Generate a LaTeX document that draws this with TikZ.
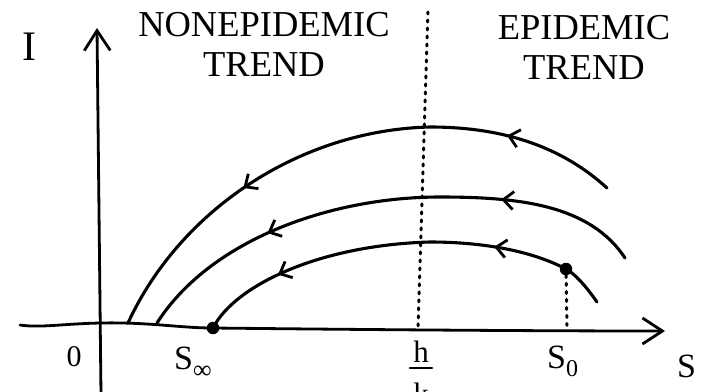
\documentclass[tikz,border=0pt]{standalone}
\usepackage{fontspec}
\setmainfont{Liberation Serif}
\usetikzlibrary{arrows.meta,decorations.markings}
\tikzset{
  head/.tip={Straight Barb[length=10pt,width=18pt,line width=2.8pt]},
  ahead/.tip={Straight Barb[length=20pt,width=26pt,line width=2.8pt]}
}
\begin{document}
\begin{tikzpicture}[x=1pt,y=-1pt,
  curve/.style={line width=3.1pt, line cap=round, line join=round},
  axis/.style={line width=2.8pt, line cap=round},
  guide/.style={line width=3pt, dash pattern=on 2pt off 6pt, line cap=round},
  title/.style={font=\fontsize{36.5}{40}\selectfont, align=center, inner sep=0pt},
  hand/.style={font=\fontsize{34}{36}\selectfont, inner sep=0pt},
  dot/.style={circle, fill=black, inner sep=0pt, minimum size=12.5pt},
  twoarrows/.style 2 args={postaction={decorate, decoration={markings,
     mark=at position #1 with {\arrow{head}},
     mark=at position #2 with {\arrow{head}}}}}
]
\useasboundingbox (0,0) rectangle (709,391);

% titles
\node[title] (non) at (264,44) {NONEPIDEMIC\\TREND};
\node[title] (epi) at (584,47) {EPIDEMIC\\TREND};

% axes
\coordinate (ytop) at (97,28);
\coordinate (ybot) at (101,395);
\coordinate (xleft) at (20,325);
\coordinate (xtip) at (665,331);
\draw[axis,-{ahead}] (ybot) -- (ytop);
\draw[axis,-{ahead}] (xleft) .. controls (40,328) and (60,324) .. (100,323)
  .. controls (150,322) and (180,328) .. (213,328)
  .. controls (400,330) and (550,331) .. (xtip);

% equilibrium points
\node[dot] (sinf) at (213,328) {};
\node[dot] (szero) at (566,269) {};

% dotted threshold line
\coordinate (hktop) at (428,12);
\coordinate (hkbot) at (418,328);
\draw[guide] (hktop) -- (hkbot);
\coordinate (s0foot) at (567,328);
\draw[guide] (szero) -- (s0foot);

% trajectories
\coordinate (t1s) at (607,188);
\coordinate (t1p) at (430,127);
\coordinate (t1e) at (128,323);
\draw[curve, twoarrows={0.20}{0.685}] (t1s) .. controls (560,145) and (500,127) .. (t1p)
  .. controls (300,130) and (180,210) .. (t1e);
\coordinate (t2s) at (625,258);
\coordinate (t2p) at (440,197);
\coordinate (t2e) at (157,323);
\draw[curve, twoarrows={0.27}{0.725}] (t2s) .. controls (590,205) and (520,197) .. (t2p)
  .. controls (330,197) and (210,240) .. (t2e);
\coordinate (t3s) at (597,302);
\coordinate (t3p) at (430,242);
\draw[curve, twoarrows={0.283}{0.80}] (t3s) .. controls (585,285) and (575,274) .. (szero.center)
  .. controls (530,250) and (480,242) .. (t3p)
  .. controls (320,245) and (235,285) .. (sinf.center);

% labels
\node[hand, font=\fontsize{42}{44}\selectfont] (ilab) at (29,47) {I};
\node[hand, font=\fontsize{30}{32}\selectfont] (olab) at (74,357) {0};
\node[hand, anchor=base west] (sinflab) at (174,369) {S\raisebox{-9pt}{\fontsize{26}{28}\selectfont ∞}};
\node[hand, anchor=base west] (s0lab) at (547,368) {S\raisebox{-8pt}{\fontsize{24}{26}\selectfont 0}};
\node[hand, anchor=base west] (slab) at (677,377) {S};
\node[hand, font=\fontsize{31}{33}\selectfont, anchor=base] (hlab) at (421,362) {h};
\node[hand, font=\fontsize{31}{33}\selectfont, anchor=base] (klab) at (421,404) {k};
\draw[axis] ([xshift=-11pt,yshift=-6pt]hlab.base) -- ([xshift=11pt,yshift=-6pt]hlab.base);
\end{tikzpicture}
\end{document}
